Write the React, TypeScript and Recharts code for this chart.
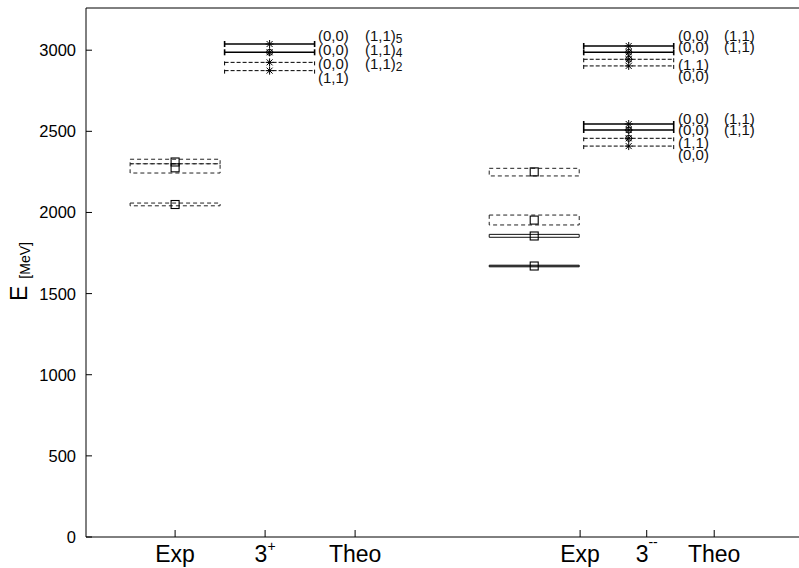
import React from 'react';
import {
  ComposedChart,
  Scatter,
  XAxis,
  YAxis,
  ErrorBar,
  ReferenceArea,
  ReferenceLine,
} from 'recharts';

const FONT = '"Liberation Sans", Arial, Helvetica, sans-serif';

// axis ranges
const X_MAX = 7.922;
const Y_MAX = 3260;
const yTicks = [0, 500, 1000, 1500, 2000, 2500, 3000];
const xTicks = [0.99, 1.99, 2.99, 5.49, 6.23, 6.98];
const xTickBase = ['Exp', '3', 'Theo', 'Exp', '3', 'Theo'];
const xTickSup = ['', '+', '', '', '--', ''];

// experimental levels (MeV)
const EXP_HALF = 0.5;
const expCenterLeft = 0.99;
const expCenterRight = 4.98;
const expLeftLow = [2300, 2243, 2041];
const expLeftHigh = [2328, 2300, 2058];
const expLeftMass = [2311, 2275, 2049];
const expLeftDashed = [true, true, true];
const expRightLow = [2225, 1923, 1847, 1665];
const expRightHigh = [2272, 1984, 1865, 1675];
const expRightMass = [2250, 1953, 1855, 1670];
const expRightDashed = [true, true, false, false];
const expRightFilled = [false, false, false, true];

// theoretical levels (MeV)
const THEO_HALF = 0.5;
const theoCenterLeft = 2.04;
const theoCenterRight = 6.03;
const theoLeftE = [3038, 2987, 2925, 2874];
const theoLeftDashed = [false, false, true, true];
const theoLeftCircle = [false, true, false, false];
const theoRightE = [3026, 2987, 2944, 2903, 2545, 2508, 2457, 2409];
const theoRightDashed = [false, false, true, true, false, false, true, true];
const theoRightCircle = [false, true, true, false, false, true, true, false];

// level labels
const labelColLeft1 = 2.578;
const labelColLeft2 = 3.1;
const labelColRight1 = 6.578;
const labelColRight2 = 7.089;
const labelLeftE = [3094, 3007, 2921, 2835];
const labelLeftA = ['(0,0)', '(0,0)', '(0,0)', '(1,1)'];
const labelLeftB = ['(1,1)', '(1,1)', '(1,1)', ''];
const labelLeftSub = ['5', '4', '2', ''];
const labelRightE = [3094, 3026, 2915, 2850, 2582, 2517, 2434, 2360];
const labelRightA = ['(0,0)', '(0,0)', '(1,1)', '(0,0)', '(0,0)', '(0,0)', '(1,1)', '(0,0)'];
const labelRightB = ['(1,1)', '(1,1)', '', '', '(1,1)', '(1,1)', '', ''];

// ---------- derived tables ----------
const expBoxes = [
  ...expLeftLow.map((low, i) => ({
    cx: expCenterLeft, low, high: expLeftHigh[i], mass: expLeftMass[i], dashed: expLeftDashed[i], filled: false,
  })),
  ...expRightLow.map((low, i) => ({
    cx: expCenterRight, low, high: expRightHigh[i], mass: expRightMass[i], dashed: expRightDashed[i], filled: expRightFilled[i],
  })),
];
const expPoints = expBoxes.map((b) => ({ x: b.cx, y: b.mass }));

const theoLevels = [
  ...theoLeftE.map((E, i) => ({ x: theoCenterLeft, y: E, err: THEO_HALF, dashed: theoLeftDashed[i], circle: theoLeftCircle[i] })),
  ...theoRightE.map((E, i) => ({ x: theoCenterRight, y: E, err: THEO_HALF, dashed: theoRightDashed[i], circle: theoRightCircle[i] })),
];
const theoSolid = theoLevels.filter((l) => !l.dashed);
const theoDashed = theoLevels.filter((l) => l.dashed);

const labelPoints = [
  ...labelLeftE.map((E, i) => ({ x: labelColLeft1, y: E, text: labelLeftA[i], sub: '' })),
  ...labelLeftE
    .map((E, i) => ({ x: labelColLeft2, y: E, text: labelLeftB[i], sub: labelLeftSub[i] }))
    .filter((p) => p.text),
  ...labelRightE.map((E, i) => ({ x: labelColRight1, y: E, text: labelRightA[i], sub: '' })),
  ...labelRightE
    .map((E, i) => ({ x: labelColRight2, y: E, text: labelRightB[i], sub: '' }))
    .filter((p) => p.text),
];

// ---------- shapes ----------
const Square = (props: any) => {
  const { cx, cy } = props;
  if (cx == null || cy == null) return null;
  return <rect x={cx - 4} y={cy - 4} width={8} height={8} fill="none" stroke="#000" strokeWidth={1.1} />;
};

const Asterisk = (props: any) => {
  const { cx, cy, payload } = props;
  if (cx == null || cy == null) return null;
  return (
    <g stroke="#000" strokeWidth={1}>
      <line x1={cx - 4} y1={cy} x2={cx + 4} y2={cy} />
      <line x1={cx - 3} y1={cy - 3} x2={cx + 3} y2={cy + 3} />
      <line x1={cx - 3} y1={cy + 3} x2={cx + 3} y2={cy - 3} />
      <line x1={cx} y1={cy - 4} x2={cx} y2={cy + 4} />
      {payload && payload.circle ? <circle cx={cx} cy={cy} r={3} fill="none" /> : null}
    </g>
  );
};

const LevelLabel = (props: any) => {
  const { cx, cy, payload } = props;
  if (cx == null || cy == null || !payload) return null;
  return (
    <text x={cx} y={cy} dominantBaseline="central" fontFamily={FONT} fontSize={15} fill="#111">
      <tspan>{payload.text}</tspan>
      {payload.sub ? (
        <tspan fontSize={12} dy={4}>
          {payload.sub}
        </tspan>
      ) : null}
    </text>
  );
};

const YTick = (props: any) => {
  const { x, y, payload } = props;
  return (
    <g>
      <line x1={x} y1={y} x2={x + 6} y2={y} stroke="#000" strokeWidth={1} />
      <text x={x - 10} y={y} textAnchor="end" dominantBaseline="central" fontFamily={FONT} fontSize={16.5} fill="#000">
        {payload.value}
      </text>
    </g>
  );
};

const XTick = (props: any) => {
  const { x, y, payload } = props;
  let idx = xTicks.findIndex((t) => Math.abs(t - payload.value) < 1e-6);
  if (idx < 0) idx = payload.index ?? 0;
  const sup = xTickSup[idx];
  return (
    <g>
      <line x1={x} y1={y} x2={x} y2={y - 7} stroke="#000" strokeWidth={1} />
      <text x={x} y={y + 25} textAnchor="middle" fontFamily={FONT} fontSize={23} fill="#000">
        <tspan>{xTickBase[idx]}</tspan>
        {sup ? (
          <tspan fontSize={14} dy={sup === '+' ? -11 : -15}>
            {sup}
          </tspan>
        ) : null}
      </text>
    </g>
  );
};

const YTitle = () => (
  <text x={27} y={301} transform="rotate(-90 27 301)" fontFamily={FONT} fill="#000">
    <tspan fontSize={23}>E</tspan>
    <tspan fontSize={14} dx={7} dy={3}>
      [MeV]
    </tspan>
  </text>
);

export default function App() {
  return (
    <div style={{ position: 'absolute', left: 0, top: 0, width: 799, height: 568, background: '#fff' }}>
      <ComposedChart width={799} height={568} margin={{ top: 8, right: 0, bottom: 0, left: 0 }}>
        <XAxis
          dataKey="x"
          type="number"
          domain={[0, X_MAX]}
          allowDataOverflow
          ticks={xTicks}
          interval={0}
          height={31}
          tickSize={0}
          tickMargin={0}
          tickLine={false}
          axisLine={{ stroke: '#000', strokeWidth: 1 }}
          tick={<XTick />}
        />
        <YAxis
          dataKey="y"
          type="number"
          domain={[0, Y_MAX]}
          allowDataOverflow
          ticks={yTicks}
          interval={0}
          width={86}
          tickSize={0}
          tickMargin={0}
          tickLine={false}
          axisLine={{ stroke: '#000', strokeWidth: 1 }}
          tick={<YTick />}
          label={<YTitle />}
        />
        <YAxis
          yAxisId="r"
          orientation="right"
          dataKey="y"
          type="number"
          domain={[0, Y_MAX]}
          allowDataOverflow
          ticks={yTicks}
          interval={0}
          width={0}
          mirror
          tickSize={4}
          axisLine={false}
          tickLine={{ stroke: '#000', strokeWidth: 1 }}
          tick={false}
        />
        <ReferenceLine y={Y_MAX} stroke="#000" strokeWidth={1} />

        {expBoxes.map((b, i) => (
          <ReferenceArea
            key={'box' + i}
            x1={b.cx - EXP_HALF}
            x2={b.cx + EXP_HALF}
            y1={b.low}
            y2={b.high}
            fill={b.filled ? '#555' : 'none'}
            fillOpacity={1}
            stroke={b.dashed ? '#222' : '#111'}
            strokeWidth={1}
            strokeDasharray={b.dashed ? '4 3' : undefined}
            ifOverflow="visible"
          />
        ))}

        <Scatter data={theoDashed} isAnimationActive={false} shape={<Asterisk />}>
          <ErrorBar dataKey="err" direction="x" width={3} stroke="#000" strokeWidth={1} strokeDasharray="4 2" isAnimationActive={false} />
        </Scatter>
        <Scatter data={theoSolid} isAnimationActive={false} shape={<Asterisk />}>
          <ErrorBar dataKey="err" direction="x" width={3} stroke="#000" strokeWidth={1.6} isAnimationActive={false} />
        </Scatter>
        <Scatter data={expPoints} isAnimationActive={false} shape={<Square />} />
        <Scatter data={labelPoints} isAnimationActive={false} shape={<LevelLabel />} />
      </ComposedChart>
    </div>
  );
}
